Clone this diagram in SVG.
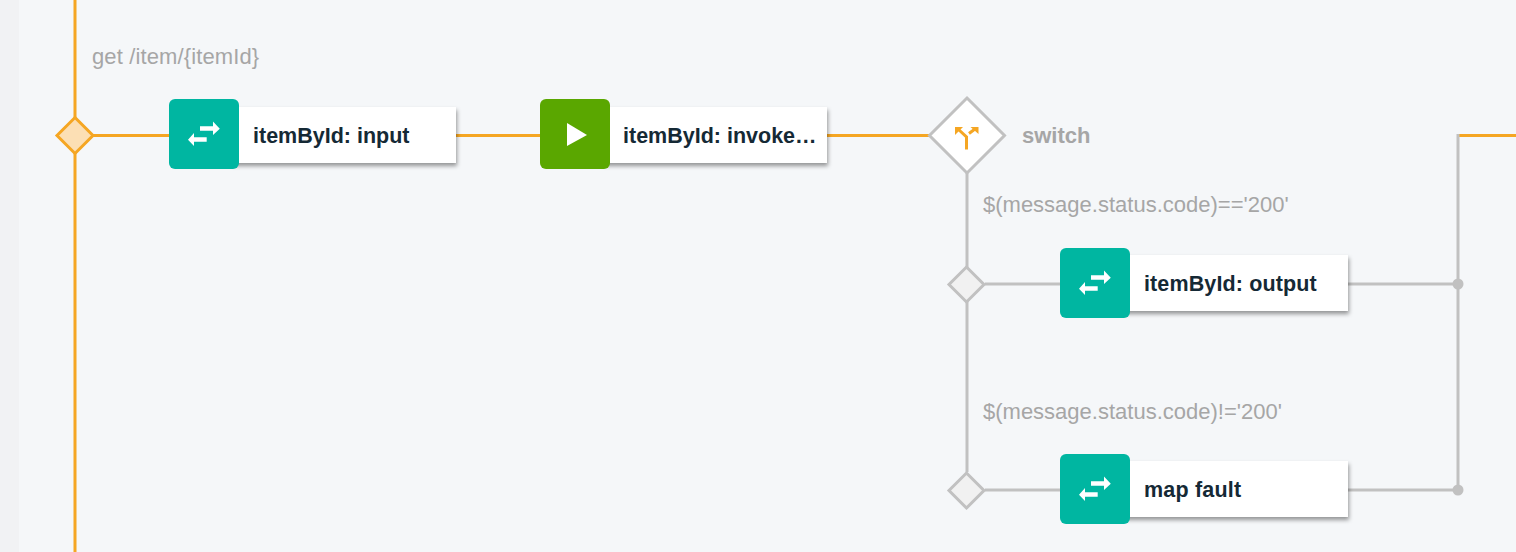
<svg xmlns="http://www.w3.org/2000/svg" width="1516" height="552" viewBox="0 0 1516 552">
<style>
.o{stroke:#f5a623;stroke-width:3;fill:none}
.g{stroke:#c1c1c1;stroke-width:3;fill:none}
.card{fill:#fff;filter:url(#sh)}
.teal{fill:#00b6a1}
.green{fill:#5aa700}
.title{font:bold 21.500px "Liberation Sans",Arial,sans-serif;fill:#152935}
.lab{font:22px "Liberation Sans",Arial,sans-serif;fill:#a6a6a6}
.sw{font:bold 22px "Liberation Sans",Arial,sans-serif;fill:#a6a6a6}
.ar{fill:#fff}
</style>
<defs>
<filter id="sh" x="-10%" y="-20%" width="120%" height="150%"><feDropShadow dx="1" dy="3" stdDeviation="2" flood-color="#000" flood-opacity=".4"/></filter>
<g id="swap"><path class="ar" d="M-4-7.800H9V-12.500L15.800-5.300 9 1V-3.300H-4ZM2.700 3.200V7.700H-10V12L-16 5.700-10-1V3.200Z"/></g>
</defs>
<rect width="1516" height="552" fill="#f5f7f9"/>
<rect width="19" height="552" fill="#f1f2f4"/>
<g id="connectors">
<path class="o" d="M75 0V552M75 135.500H169M456 135.500H540M827 135.500H930M1458 135.500H1516"/>
<path class="g" d="M967 170V472M985 284H1060M1348 284H1458M985 490H1060M1348 490H1458M1458 134V490"/>
<circle cx="1458" cy="284" r="5.500" fill="#c1c1c1"/>
<circle cx="1458" cy="490" r="5.500" fill="#c1c1c1"/>
</g>
<g id="start"><path d="M75 117.500L93 135.500 75 153.500 57 135.500Z" fill="#fcdfb4" stroke="#f5a623" stroke-width="3"/></g>
<text class="lab" x="92" y="64" letter-spacing=".12">get /item/{itemId}</text>
<g id="input">
<rect class="card" x="232" y="107" width="224" height="56"/>
<rect class="teal" x="169" y="99" width="70" height="70" rx="6"/>
<use href="#swap" x="204" y="134"/>
<text class="title" x="253" y="143">itemById: input</text>
</g>
<g id="invoke">
<rect class="card" x="603" y="107" width="224" height="56"/>
<rect class="green" x="540" y="99" width="70" height="70" rx="6"/>
<path class="ar" d="M567 123L587 135 567 146Z"/>
<text class="title" x="623" y="143">itemById: invoke…</text>
</g>
<g id="switch">
<path d="M967 98L1004.500 135.500 967 173 929.500 135.500Z" fill="#fff" stroke="#c1c1c1" stroke-width="3"/>
<path class="o" d="M966.500 149.500V137L958 129M969 133.500L975 129"/>
<path d="M955 127H963L955 135ZM970.500 127H978.500V134Z" fill="#f5a623"/>
<text class="sw" x="1022" y="143">switch</text>
</g>
<text class="lab" x="983" y="212">$(message.status.code)=='200'</text>
<g id="case1"><path d="M966.500 267L984 284.500 966.500 302 949 284.500Z" fill="#f1f1f1" stroke="#c1c1c1" stroke-width="3"/></g>
<g id="output">
<rect class="card" x="1124" y="255" width="224" height="56"/>
<rect class="teal" x="1060" y="248" width="70" height="70" rx="6"/>
<use href="#swap" x="1095" y="283"/>
<text class="title" x="1144" y="291" letter-spacing=".12">itemById: output</text>
</g>
<text class="lab" x="983" y="419">$(message.status.code)!='200'</text>
<g id="case2"><path d="M966.500 473L984 490.500 966.500 508 949 490.500Z" fill="#f1f1f1" stroke="#c1c1c1" stroke-width="3"/></g>
<g id="fault">
<rect class="card" x="1124" y="461" width="224" height="56"/>
<rect class="teal" x="1060" y="454" width="70" height="70" rx="6"/>
<use href="#swap" x="1095" y="489"/>
<text class="title" x="1144" y="497" letter-spacing=".2">map fault</text>
</g>
</svg>
